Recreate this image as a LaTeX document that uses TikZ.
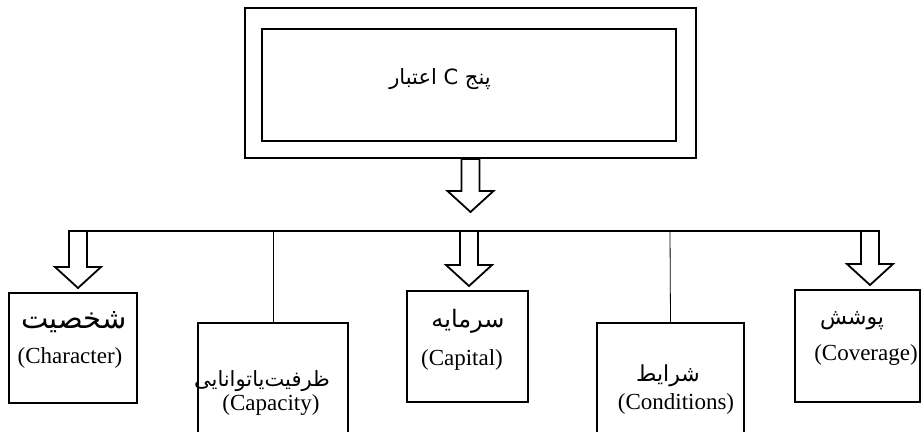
\documentclass[tikz,border=0pt]{standalone}
\usepackage{fontspec}
\setmainfont{Liberation Serif}
\newfontfamily\fafont[Script=Arabic]{DejaVu Sans}
\TeXXeTstate=1
\usepackage{tikz}
\usetikzlibrary{calc, fit, positioning}

\begin{document}
\begin{tikzpicture}[x=0.5pt, y=-0.5pt,
    outerstyle/.style={draw, line width=1.1pt, inner sep=0pt},
    innerstyle/.style={draw, line width=0.6pt, inner sep=0pt},
    boxstyle/.style={draw, line width=1pt, inner sep=0pt},
    busstyle/.style={line width=1pt},
    linkstyle/.style={line width=0.4pt},
    arrowstyle/.style={draw, fill=white, line width=0.9pt, line join=miter,
      to path={let \p1=(\tikztostart), \p2=(\tikztotarget) in
        (\x1-4.5pt,\y1) -- (\x1-4.5pt,\y2+#1+10.5pt) -- (\x1-11.5pt,\y2+#1+10.5pt)
        -- (\x1,\y2+#1) -- (\x1+11.5pt,\y2+#1+10.5pt) -- (\x1+4.5pt,\y2+#1+10.5pt)
        -- (\x1+4.5pt,\y1) -- cycle}},
    fastyle/.style={font=\fafont\fontsize{#1}{#1}\selectfont, inner sep=0pt},
    fastyle/.default=12,
    enstyle/.style={font=\fontsize{11.5}{13}\selectfont, inner sep=0pt}]
  \useasboundingbox (0,0) rectangle (922,432);

  % top box
  \node[outerstyle, fit={(245,8) (696,158)}] (credit) {};
  \node[innerstyle, fit={(262,29) (676,141)}] (creditin) {};
  \node[fastyle=10.5] (title) at (440,79) {\beginR پنج C اعتبار\endR};

  % bus
  \coordinate (busL) at (69,231);
  \coordinate (busR) at (867,231);
  \coordinate (b1) at (78,231);
  \coordinate (b2) at (273,231);
  \coordinate (b3) at (469,231);
  \coordinate (b4) at (670,231);
  \coordinate (b5) at (870,231);
  \draw[busstyle] (busL) -- (busR);

  % the five boxes
  \node[boxstyle, fit={(9,293) (137,403)}] (character) {};
  \node[boxstyle, fit={(198,323) (348,440)}] (capacity) {};
  \node[boxstyle, fit={(407,291) (528,402)}] (capital) {};
  \node[boxstyle, fit={(597,323) (744,440)}] (conditions) {};
  \node[boxstyle, fit={(795,290) (920,402)}] (coverage) {};

  \node[fastyle=14.5] (charfa) at (74,322) {\beginR شخصیت\endR};
  \node[enstyle] (charen) at (70,358) {(Character)};
  \node[fastyle=10.5] (capafa) at (262,381) {\beginR ظرفیت‌یا‌توانایی\endR};
  \node[enstyle] (capaen) at (271,405) {(Capacity)};
  \node[fastyle] (capifa) at (468,321) {\beginR سرمایه\endR};
  \node[enstyle] (capien) at (462,360) {(Capital)};
  \node[fastyle=11] (condfa) at (668,376) {\beginR شرایط\endR};
  \node[enstyle] (conden) at (676,404) {(Conditions)};
  \node[fastyle=11] (covefa) at (852,321) {\beginR پوشش\endR};
  \node[enstyle] (coveen) at (866,355) {(Coverage)};

  % connectors
  \draw[arrowstyle=9.5pt] (credit.south) to (credit.south |- busL);
  \draw[arrowstyle=2pt] (b1) to (character.north -| b1);
  \draw[linkstyle] (b2) -- (capacity.north);
  \draw[arrowstyle=2pt] (b3) to (capital.north -| b3);
  \draw[linkstyle] (b4) -- (conditions.north);
  \draw[arrowstyle=2pt] (b5) to (coverage.north -| b5);
\end{tikzpicture}
\end{document}
